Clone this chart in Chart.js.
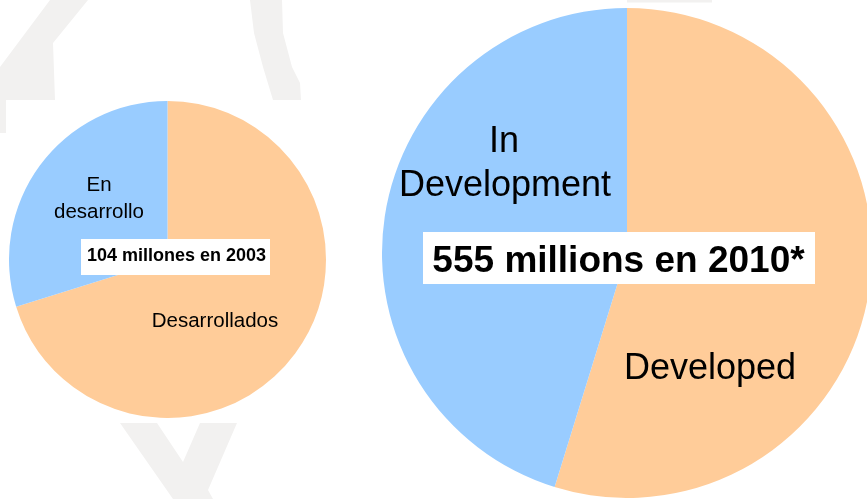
<!DOCTYPE html>
<html>
<head>
<meta charset="utf-8">
<script src="https://cdn.jsdelivr.net/npm/chart.js@4.4.1/dist/chart.umd.min.js"></script>
<style>
  html, body { margin: 0; padding: 0; background: #fff; }
  body { width: 867px; height: 499px; overflow: hidden; position: relative; }
  canvas { position: absolute; }
  #bg { left: 0; top: 0; }
  #pie2003 { left: 9px; top: 101px; }
  #pie2010 { left: 382px; top: 8px; }
</style>
</head>
<body>
<canvas id="bg" width="867" height="499"></canvas>
<canvas id="pie2003" width="317" height="317"></canvas>
<canvas id="pie2010" width="490" height="490"></canvas>
<script>
// data (millions)
var labels2003 = ['Desarrollados', 'En desarrollo'];
var values2003 = [73, 31];
var labels2010 = ['Developed', 'In Development'];
var values2010 = [304, 251];
var colors = ['#FFCC99', '#99CCFF'];

var FONT = '"Liberation Sans", Arial, sans-serif';

// faint watermark in the background
var bg = document.getElementById('bg').getContext('2d');
bg.fillStyle = '#f2f1f0';
function poly(pts) {
  bg.beginPath();
  bg.moveTo(pts[0][0], pts[0][1]);
  for (var i = 1; i < pts.length; i++) bg.lineTo(pts[i][0], pts[i][1]);
  bg.closePath();
  bg.fill();
}
poly([[50,0],[88,0],[53,43],[55,100],[6,100],[6,133],[0,133],[0,67]]);
poly([[250,0],[282,0],[283,33],[292,67],[300,83],[301,100],[273,100],[263,67],[254,33]]);
poly([[120,423],[157,423],[183,462],[200,423],[237,423],[208,490],[213,499],[173,499]]);
poly([[627,0],[712,0],[712,2.5],[627,2.5]]);
bg.fillStyle = '#ffffff';
bg.fillRect(6, 100, 334, 323);

// text labels drawn over the pie
var textPlugin = {
  id: 'pieText',
  afterDraw: function (chart, args, opts) {
    var ctx = chart.ctx;
    ctx.save();
    ctx.textAlign = 'center';
    ctx.textBaseline = 'alphabetic';
    (opts.items || []).forEach(function (it) {
      if (it.box) {
        ctx.fillStyle = '#ffffff';
        ctx.fillRect(it.box[0], it.box[1], it.box[2], it.box[3]);
      }
      ctx.font = it.font;
      ctx.fillStyle = '#000000';
      ctx.fillText(it.text, it.x, it.y);
    });
    ctx.restore();
  }
};

function makePie(id, labels, values, items) {
  return new Chart(document.getElementById(id), {
    type: 'pie',
    data: {
      labels: labels,
      datasets: [{
        data: values,
        backgroundColor: colors,
        borderWidth: 0,
        hoverOffset: 0
      }]
    },
    options: {
      responsive: false,
      animation: false,
      layout: { padding: 0 },
      events: [],
      plugins: {
        legend: { display: false },
        tooltip: { enabled: false },
        pieText: { items: items }
      }
    },
    plugins: [textPlugin]
  });
}

makePie('pie2003', labels2003, values2003, [
  { text: 'En', x: 90, y: 90, font: '20.5px ' + FONT },
  { text: 'desarrollo', x: 90, y: 117, font: '20.5px ' + FONT },
  { text: 'Desarrollados', x: 206, y: 226, font: '20.5px ' + FONT },
  { text: '104 millones en 2003', x: 167.5, y: 160, font: 'bold 18px ' + FONT, box: [72, 138, 189, 36] }
]);

makePie('pie2010', labels2010, values2010, [
  { text: 'In', x: 122, y: 144, font: '36px ' + FONT },
  { text: 'Development', x: 123, y: 188, font: '36px ' + FONT },
  { text: 'Developed', x: 328, y: 371, font: '36px ' + FONT },
  { text: '555 millions en 2010*', x: 236.5, y: 264, font: 'bold 37px ' + FONT, box: [41, 224, 392, 52] }
]);
</script>
</body>
</html>
